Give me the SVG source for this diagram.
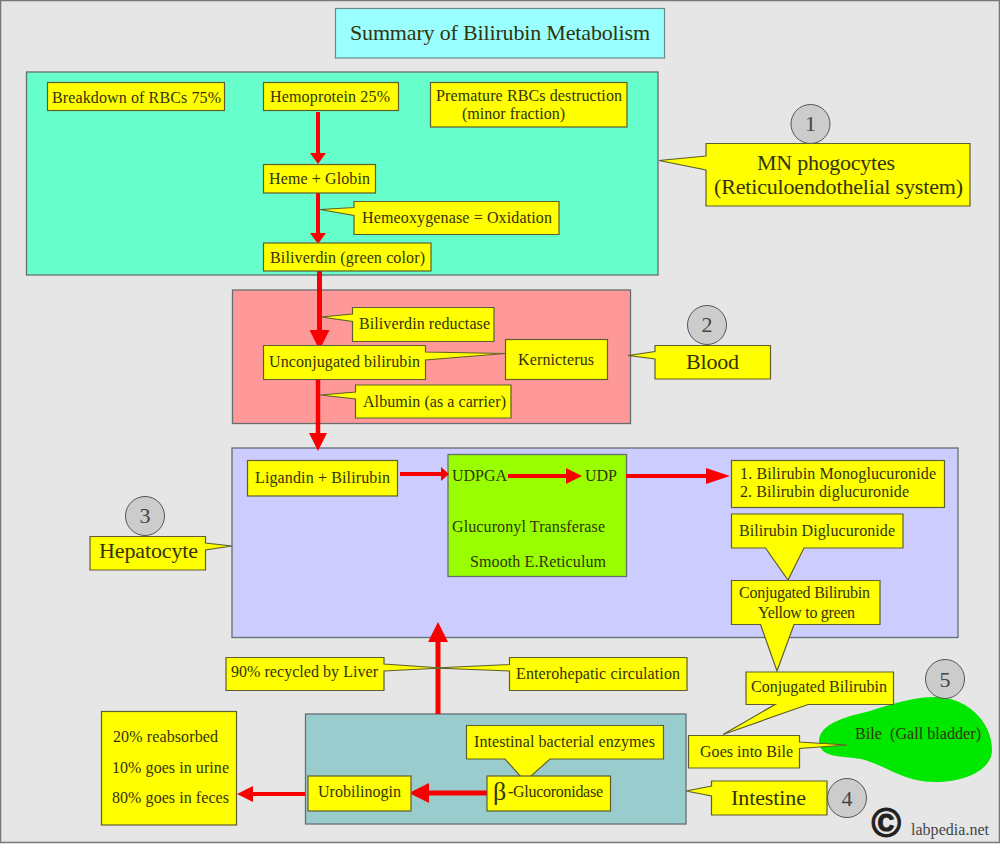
<svg xmlns="http://www.w3.org/2000/svg" width="1000" height="845" viewBox="0 0 1000 845">
<style>
text{font-family:"Liberation Serif","Times New Roman",serif;font-size:16px;fill:#33330a}
.b{fill:#ffff00;stroke:#5e5e2e;stroke-width:1.2}
.p{stroke:#666f70;stroke-width:1.3}
.c{fill:#cccccc;stroke:#555;stroke-width:1}
.n{font-size:22px;fill:#444}
.l{font-size:22px}
.a{stroke:#f80000;fill:none}
</style>
<defs>
<marker id="arrow" viewBox="0 0 10 10" refX="0" refY="5" markerWidth="4" markerHeight="4" orient="auto" preserveAspectRatio="none"><path d="M0 0L10 5L0 10Z" fill="#f80000"/></marker>
<marker id="arrow-short" viewBox="0 0 10 10" refX="0" refY="5" markerWidth="2.75" markerHeight="4" orient="auto" preserveAspectRatio="none"><path d="M0 0L10 5L0 10Z" fill="#f80000"/></marker>
<marker id="arrow-tiny" viewBox="0 0 10 10" refX="0" refY="5" markerWidth="2" markerHeight="3.5" orient="auto" preserveAspectRatio="none"><path d="M0 0L10 5L0 10Z" fill="#f80000"/></marker>
<marker id="arrow-long" viewBox="0 0 10 10" refX="0" refY="5" markerWidth="6" markerHeight="4" orient="auto" preserveAspectRatio="none"><path d="M0 0L10 5L0 10Z" fill="#f80000"/></marker>
</defs>
<rect x="0.500" y="0.500" width="999" height="842" fill="#e6e6e6" stroke="#777" stroke-width="1.500"/>

<g id="panels">
<g id="panel-macrophage"><rect class="p" x="26.500" y="72" width="631.500" height="203" fill="#66ffcc"/></g>
<g id="panel-blood"><rect class="p" x="232.500" y="290" width="398" height="133.500" fill="#ff9999"/></g>
<g id="panel-hepatocyte"><rect class="p" x="232" y="448" width="726" height="189.500" fill="#ccccff"/></g>
<g id="panel-intestine"><rect class="p" x="305.500" y="714" width="380.500" height="110" fill="#99cccc"/></g>
<g id="panel-reticulum"><rect class="p" x="448" y="454.500" width="178.500" height="122" fill="#99ff00"/>
<text x="452" y="481" textLength="55">UDPGA</text>
<text x="585" y="481" textLength="32">UDP</text>
<text x="452" y="532" textLength="153">Glucuronyl Transferase</text>
<text x="470" y="567" textLength="136">Smooth E.Reticulum</text></g>
<g id="gall-bladder"><path d="M819 740C821 722 850 716 870 711C895 703 915 697 935 697C965 697 992 720 992 750C992 770 965 782 935 782C905 782 890 768 865 760C845 755 818 760 819 740Z" fill="#00e800"/>
<text x="855" y="739" textLength="126" xml:space="preserve">Bile  (Gall bladder)</text></g>
</g>

<g id="connectors">
<line class="a" stroke-width="4" x1="318" y1="112" x2="318" y2="153" marker-end="url(#arrow-short)"/>
<line class="a" stroke-width="4" x1="318" y1="193" x2="318" y2="233" marker-end="url(#arrow-short)"/>
<line class="a" stroke-width="5" x1="319.500" y1="271" x2="319.500" y2="330" marker-end="url(#arrow)"/>
<line class="a" stroke-width="4.500" x1="318" y1="379" x2="318" y2="433" marker-end="url(#arrow)"/>
<line class="a" stroke-width="4" x1="400" y1="474" x2="441" y2="474" marker-end="url(#arrow-tiny)"/>
<line class="a" stroke-width="4" x1="508" y1="476" x2="566" y2="476" marker-end="url(#arrow)"/>
<line class="a" stroke-width="4" x1="626" y1="476" x2="706" y2="476" marker-end="url(#arrow-long)"/>
<line class="a" stroke-width="5" x1="438" y1="714" x2="438" y2="642" marker-end="url(#arrow)"/>
<line class="a" stroke-width="5" x1="487" y1="793" x2="429" y2="793" marker-end="url(#arrow)"/>
<line class="a" stroke-width="4" x1="305" y1="794" x2="253" y2="794" marker-end="url(#arrow)"/>
</g>

<g id="title"><rect x="335.500" y="8.500" width="329" height="49.500" fill="#99ffff" stroke="#6a8a8a" stroke-width="1.200"/>
<text class="l" x="350" y="40" textLength="300">Summary of Bilirubin Metabolism</text></g>

<g id="breakdown"><rect class="b" x="47.500" y="82.500" width="177" height="28"/><text x="52" y="103" textLength="169">Breakdown of RBCs 75%</text></g>
<g id="hemoprotein"><rect class="b" x="263.500" y="82.500" width="135" height="28"/><text x="270" y="102" textLength="120">Hemoprotein 25%</text></g>
<g id="premature"><rect class="b" x="430.500" y="82.500" width="196.500" height="44.500"/><text x="436" y="101" textLength="186">Premature RBCs destruction</text><text x="462" y="119" textLength="103">(minor fraction)</text></g>
<g id="heme-globin"><rect class="b" x="263.500" y="164.500" width="112" height="28.500"/><text x="269" y="184" textLength="101">Heme + Globin</text></g>
<g id="hemeoxygenase"><path class="b" d="M354 201.500H559V234.500H354V215.500L320 209.500L354 207.500Z"/><text x="362" y="223" textLength="190">Hemeoxygenase = Oxidation</text></g>
<g id="biliverdin"><rect class="b" x="263.500" y="243" width="167.500" height="28"/><text x="270" y="263" textLength="155">Biliverdin (green color)</text></g>

<g id="mn-phagocytes"><path class="b" d="M706 143.500H970V206H706V170L659 160.500L706 156Z"/><text class="l" x="757" y="170" textLength="138">MN phogocytes</text><text class="l" x="714" y="194" textLength="249">(Reticuloendothelial system)</text></g>
<g id="num-1"><circle class="c" cx="810.500" cy="124" r="19.500"/><text class="n" x="805" y="131">1</text></g>

<g id="biliverdin-reductase"><path class="b" d="M352.500 307.500H494V341.500H352.500V321.500L321 317L352.500 314Z"/><text x="359" y="329" textLength="131">Biliverdin reductase</text></g>
<g id="kernicterus"><rect class="b" x="505.500" y="339.500" width="102" height="40"/><text x="518" y="365" textLength="76">Kernicterus</text></g>
<g id="unconjugated"><path class="b" d="M263.500 345.500H425.500V352L505.500 353.500L425.500 360V379.500H263.500Z"/><text x="269" y="367" textLength="151">Unconjugated bilirubin</text></g>
<g id="albumin"><path class="b" d="M355.500 385H511V418H355.500V399L320 395L355.500 392Z"/><text x="363" y="407" textLength="143">Albumin (as a carrier)</text></g>
<g id="blood"><path class="b" d="M655 345.500H770.500V379H655V359L628 355.500L655 351.500Z"/><text class="l" x="686" y="369" textLength="53">Blood</text></g>
<g id="num-2"><circle class="c" cx="707" cy="325" r="19.500"/><text class="n" x="701.500" y="332">2</text></g>

<g id="ligandin"><rect class="b" x="247.500" y="460.500" width="150" height="35.500"/><text x="255" y="483" textLength="135">Ligandin + Bilirubin</text></g>
<g id="glucuronides"><rect class="b" x="731.500" y="460.500" width="213" height="47"/><text x="740" y="479" textLength="196">1. Bilirubin Monoglucuronide</text><text x="740" y="497" textLength="169">2. Bilirubin diglucuronide</text></g>
<g id="bilirubin-diglucuronide"><path class="b" d="M731.500 514H903V548H804L788 580L765.500 548H731.500Z"/><text x="739" y="536" textLength="156">Bilirubin Diglucuronide</text></g>
<g id="conjugated-yellow"><path class="b" d="M731.500 580.500H880V624.500H794L777 671L760.500 624.500H731.500Z"/><text x="739" y="598" textLength="131">Conjugated Bilirubin</text><text x="758" y="618" textLength="97">Yellow to green</text></g>
<g id="hepatocyte"><path class="b" d="M90 536.500H205.500V543L232 546L205.500 550V570H90Z"/><text class="l" x="99" y="558" textLength="99">Hepatocyte</text></g>
<g id="num-3"><circle class="c" cx="145" cy="516" r="19.500"/><text class="n" x="139.500" y="523">3</text></g>

<g id="enterohepatic"><path class="b" d="M509.500 657.500H687V690.500H509.500V671L434 668L509.500 664.500Z"/><text x="516" y="679" textLength="164">Enterohepatic circulation</text></g>
<g id="recycled"><path class="b" d="M226 657.500H384V664L442 668L384 671V690.500H226Z"/><text x="231" y="677" textLength="147">90% recycled by Liver</text></g>

<g id="fate"><rect class="b" x="101.500" y="711.500" width="135" height="113.500"/><text x="113" y="742" textLength="105">20% reabsorbed</text><text x="112" y="773" textLength="117">10% goes in urine</text><text x="112" y="803" textLength="117">80% goes in feces</text></g>
<g id="enzymes"><path class="b" d="M466.500 725.500H663.500V759H550L530 777H521L505 759H466.500Z"/><text x="474" y="747" textLength="181">Intestinal bacterial enzymes</text></g>
<g id="glucoronidase"><rect class="b" x="487" y="776" width="123.500" height="35"/><text x="493" y="800" style="font-size:26px">β</text><text x="508" y="797" textLength="95">-Glucoronidase</text></g>
<g id="urobilinogin"><rect class="b" x="308" y="776" width="103" height="35"/><text x="318" y="797" textLength="83">Urobilinogin</text></g>

<g id="conjugated"><path class="b" d="M746 672H893.500V704.500H808L723 734.500L775 704.500H746Z"/><text x="751" y="692" textLength="136">Conjugated Bilirubin</text></g>
<g id="goes-into-bile"><path class="b" d="M688.500 735.500H799.500V742L847 745L799.500 748.500V768H688.500Z"/><text x="700" y="757" textLength="93">Goes into Bile</text></g>
<g id="intestine"><path class="b" d="M711.500 781H827V815H711.500V796L686 791L711.500 786Z"/><text class="l" x="731" y="805" textLength="75">Intestine</text></g>
<g id="num-4"><circle class="c" cx="847" cy="798" r="19.500"/><text class="n" x="841.500" y="806">4</text></g>
<g id="num-5"><circle class="c" cx="945" cy="679" r="19.500"/><text class="n" x="939.500" y="687">5</text></g>

<g id="credit"><text x="871.500" y="837" style="font-family:'Liberation Sans',Arial,sans-serif;font-size:40px;font-weight:bold;fill:#222;stroke:#222;stroke-width:1.200">©</text><text x="911" y="835" textLength="78" style="fill:#444">labpedia.net</text></g>
</svg>
